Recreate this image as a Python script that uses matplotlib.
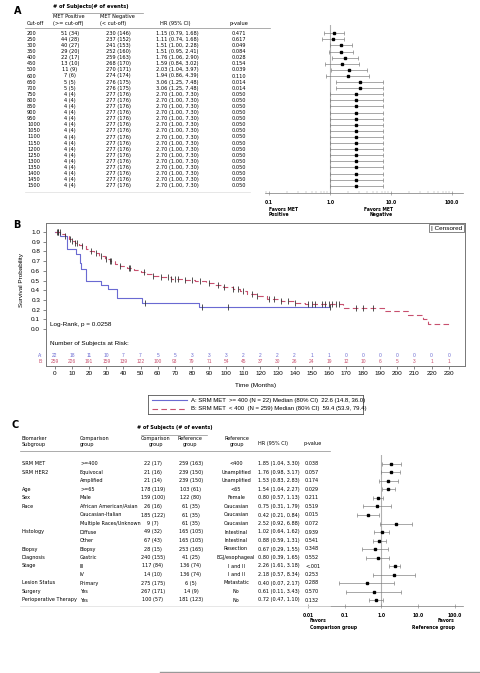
import matplotlib.pyplot as plt
import numpy as np
from matplotlib.lines import Line2D
from matplotlib.transforms import blended_transform_factory
from matplotlib.ticker import LogLocator, NullFormatter, FixedLocator

W, H = 480, 673

# ---------------- panel A data ----------------
cutoffs = [200, 250, 300, 350, 400, 450, 500, 600, 650, 700, 750, 800, 850, 900, 950,
           1000, 1050, 1100, 1150, 1200, 1250, 1300, 1350, 1400, 1450, 1500]
pos_n = [51, 44, 40, 29, 22, 13, 11, 7, 5, 5, 4, 4, 4, 4, 4, 4, 4, 4, 4, 4, 4, 4, 4, 4, 4, 4]
pos_e = [34, 28, 27, 20, 17, 10, 9, 6, 5, 5, 4, 4, 4, 4, 4, 4, 4, 4, 4, 4, 4, 4, 4, 4, 4, 4]
neg_n = [230, 237, 241, 252, 259, 268, 270, 274, 276, 276, 277, 277, 277, 277, 277, 277,
         277, 277, 277, 277, 277, 277, 277, 277, 277, 277]
neg_e = [146, 152, 153, 160, 163, 170, 171, 174, 175, 175, 176, 176, 176, 176, 176, 176,
         176, 176, 176, 176, 176, 176, 176, 176, 176, 176]
hr_a = [1.15, 1.11, 1.51, 1.51, 1.76, 1.59, 2.03, 1.94, 3.06, 3.06, 2.70, 2.70, 2.70, 2.70,
        2.70, 2.70, 2.70, 2.70, 2.70, 2.70, 2.70, 2.70, 2.70, 2.70, 2.70, 2.70]
lo_a = [0.79, 0.74, 1.00, 0.95, 1.06, 0.84, 1.04, 0.86, 1.25, 1.25, 1.00, 1.00, 1.00, 1.00,
        1.00, 1.00, 1.00, 1.00, 1.00, 1.00, 1.00, 1.00, 1.00, 1.00, 1.00, 1.00]
hi_a = [1.68, 1.68, 2.28, 2.41, 2.90, 3.02, 3.97, 4.39, 7.48, 7.48, 7.30, 7.30, 7.30, 7.30,
        7.30, 7.30, 7.30, 7.30, 7.30, 7.30, 7.30, 7.30, 7.30, 7.30, 7.30, 7.30]
p_a = ["0.471", "0.617", "0.049", "0.084", "0.028", "0.154", "0.039", "0.110", "0.014", "0.014",
       "0.050", "0.050", "0.050", "0.050", "0.050", "0.050", "0.050", "0.050", "0.050", "0.050",
       "0.050", "0.050", "0.050", "0.050", "0.050", "0.050"]

# ---------------- panel B data ----------------
a_times = [0, 3, 7, 12.5, 14.5, 15.5, 18, 27, 31, 36, 51, 84, 160.6]
a_surv = [1.0, 0.955, 0.82, 0.77, 0.68, 0.62, 0.50, 0.455, 0.41, 0.32, 0.27, 0.23, 0.23]
a_cens = [2, 52.5, 86, 101, 160.5]

b_times = [0, 4, 6, 8, 10, 12, 14, 16, 18, 20, 23, 26, 29, 32, 35, 38, 42, 46, 50, 54, 57,
           62, 68, 75, 82, 88, 93, 98, 104, 108, 112, 118, 124, 132, 140, 146, 168, 192, 206,
           215, 218, 231]
b_surv = [1.0, 0.98, 0.96, 0.93, 0.91, 0.89, 0.87, 0.86, 0.83, 0.80, 0.78, 0.75, 0.72, 0.70,
          0.67, 0.65, 0.63, 0.61, 0.59, 0.57, 0.55, 0.54, 0.52, 0.505, 0.49, 0.47, 0.45, 0.43,
          0.41, 0.39, 0.36, 0.34, 0.31, 0.29, 0.27, 0.26, 0.22, 0.185, 0.145, 0.10, 0.05, 0.05]
b_cens = [1, 2, 3, 6, 9, 10, 12, 13, 16, 21, 24, 27, 30, 32, 33, 38, 43, 44, 52, 57, 62, 66,
          68, 70, 72, 76, 80, 85, 90, 95, 99, 104, 107, 110, 115, 118, 125, 128, 132, 136, 140,
          148, 150, 152, 156, 158, 160, 162, 164, 166, 176, 180, 186]

risk_times = [0, 10, 20, 30, 40, 50, 60, 70, 80, 90, 100, 110, 120, 130, 140, 150, 160, 170,
              180, 190, 200, 210, 220, 230]
risk_a = [22, 18, 11, 10, 7, 7, 5, 5, 3, 3, 3, 2, 2, 2, 2, 1, 1, 0, 0, 0, 0, 0, 0, 0]
risk_b = [259, 226, 191, 159, 139, 122, 100, 93, 79, 71, 54, 45, 37, 30, 26, 24, 19, 12, 10,
          6, 5, 3, 1, 1]

# ---------------- panel C data ----------------
subgroup = ["SRM MET", "SRM HER2", "", "Age", "Sex", "Race", "", "", "Histology", "",
            "Biopsy", "Diagnosis", "Stage", "", "Lesion Status", "Surgery", "Perioperative Therapy"]
comp_grp = [">=400", "Equivocal", "Amplified", ">=65", "Male", "African American/Asian",
            "Caucasian-Italian", "Multiple Races/Unknown", "Diffuse", "Other", "Biopsy",
            "Gastric", "III", "IV", "Primary", "Yes", "Yes"]
comp_n = ["22 (17)", "21 (16)", "21 (14)", "178 (119)", "159 (100)", "26 (16)", "185 (122)",
          "9 (7)", "49 (32)", "67 (43)", "28 (15)", "240 (155)", "117 (84)", "14 (10)",
          "275 (175)", "267 (171)", "100 (57)"]
ref_n = ["259 (163)", "239 (150)", "239 (150)", "103 (61)", "122 (80)", "61 (35)", "61 (35)",
         "61 (35)", "165 (105)", "165 (105)", "253 (165)", "41 (25)", "136 (74)", "136 (74)",
         "6 (5)", "14 (9)", "181 (123)"]
ref_grp = ["<400", "Unamplified", "Unamplified", "<65", "Female", "Caucasian", "Caucasian",
           "Caucasian", "Intestinal", "Intestinal", "Resection", "EGJ/esophageal", "I and II",
           "I and II", "Metastatic", "No", "No"]
hr_c = [1.85, 1.76, 1.53, 1.54, 0.80, 0.75, 0.42, 2.52, 1.02, 0.88, 0.67, 0.80, 2.26, 2.18,
        0.40, 0.61, 0.72]
lo_c = [1.04, 0.98, 0.83, 1.04, 0.57, 0.31, 0.21, 0.92, 0.64, 0.59, 0.29, 0.39, 1.61, 0.57,
        0.07, 0.11, 0.47]
hi_c = [3.30, 3.17, 2.83, 2.27, 1.13, 1.79, 0.84, 6.88, 1.62, 1.31, 1.55, 1.65, 3.18, 8.34,
        2.17, 3.43, 1.10]
p_c = ["0.038", "0.057", "0.174", "0.029", "0.211", "0.519", "0.015", "0.072", "0.939",
       "0.541", "0.348", "0.552", "<.001", "0.253", "0.288", "0.570", "0.132"]

FS = 4.1      # table text, panel A
FS_C = 3.95   # table text, panel C
GREY = '#8a8a8a'
BLUE = '#6a6ad2'
RED = '#c8506e'
SANS = 'Liberation Sans'

fig = plt.figure(figsize=(W / 100, H / 100), dpi=100)


def px_rect(x0, y0, x1, y1):
    return [x0 / W, 1 - y1 / H, (x1 - x0) / W, (y1 - y0) / H]


def ftext(x, y, s, **kw):
    kw.setdefault('va', 'center')
    kw.setdefault('fontsize', FS)
    kw.setdefault('fontstretch', 'condensed')
    fig.text(x / W, 1 - y / H, s, **kw)


def fline(x0, x1, y, color=GREY, lw=0.5):
    fig.add_artist(Line2D([x0 / W, x1 / W], [1 - y / H, 1 - y / H], color=color, lw=lw))


def forest(ax, hr, lo, hi, ticks, ticklabels):
    hr = np.array(hr)
    yy = np.arange(len(hr))
    ax.set_xscale('log')
    ax.axvline(1.0, color='#b0b0b0', lw=0.8, zorder=0)
    ax.errorbar(hr, yy, xerr=[hr - np.array(lo), np.array(hi) - hr], fmt='s', ms=1.8,
                mfc='black', mec='black', ecolor='#777777', elinewidth=0.45,
                capsize=1.3, capthick=0.45)
    for s in ['top', 'right', 'left']:
        ax.spines[s].set_visible(False)
    ax.spines['bottom'].set_color('#777777')
    ax.spines['bottom'].set_linewidth(0.5)
    ax.set_yticks([])
    ax.xaxis.set_major_locator(FixedLocator(ticks))
    ax.set_xticklabels(ticklabels, fontsize=3.6, fontweight='bold', fontstretch='condensed')
    ax.xaxis.set_minor_locator(LogLocator(base=10, subs=np.arange(2, 10)))
    ax.xaxis.set_minor_formatter(NullFormatter())
    ax.tick_params(axis='x', which='major', length=2.5, width=0.4, color='#777777', pad=4,
                   direction='inout')
    ax.tick_params(axis='x', which='minor', length=1.5, width=0.3, color='#999999',
                   direction='in')


# ================= PANEL A =================
axA = fig.add_axes(px_rect(265, 25, 463, 192.7))
forest(axA, hr_a, lo_a, hi_a, [0.1, 1, 10, 100], ["0.1", "1.0", "10.0", "100.0"])
axA.set_xlim(10 ** -1.066, 10 ** 2.18)
row0, rstep = 33.3, 6.1
axA.set_ylim((192.7 - row0) / rstep, -(row0 - 25) / rstep)

trA = blended_transform_factory(fig.transFigure, axA.transData)
for i in range(len(cutoffs)):
    kw = dict(transform=trA, fontsize=FS, va='center', fontstretch='condensed')
    fig.text(27 / W, i, str(cutoffs[i]), ha='left', **kw)
    fig.text(70 / W, i, f"{pos_n[i]} ({pos_e[i]})", ha='center', **kw)
    fig.text(118 / W, i, f"{neg_n[i]} ({neg_e[i]})", ha='center', **kw)
    fig.text(156 / W, i, f"{hr_a[i]:.2f} ({lo_a[i]:.2f}, {hi_a[i]:.2f})", ha='left', **kw)
    fig.text(232 / W, i, p_a[i], ha='left', **kw)

ftext(18, 10.7, "A", fontsize=7, fontweight='bold', ha='center', fontstretch='normal')
ftext(91, 6.7, "# of Subjects(# of events)", ha='center', fontweight='bold')
fline(52, 143, 12.8)
ftext(53, 16.2, "MET Positive")
ftext(53, 23.2, "(>= cut-off)")
ftext(100, 16.2, "MET Negative")
ftext(100, 23.2, "(< cut-off)")
ftext(27, 23.2, "Cut-off")
ftext(160, 23.2, "HR (95% CI)")
ftext(230, 23.2, "p-value")
fline(25, 270, 28.3)
fline(25, 250, 192.3, color='#dddddd')
ftext(269, 209.3, "Favors MET", ha='left', fontsize=3.6, fontweight='bold')
ftext(269, 214.8, "Positive", ha='left', fontsize=3.6, fontweight='bold')
ftext(393, 209.3, "Favors MET", ha='right', fontsize=3.6, fontweight='bold')
ftext(393, 214.8, "Negative", ha='right', fontsize=3.6, fontweight='bold')

# ================= PANEL B =================
axB = fig.add_axes(px_rect(45.7, 223, 465, 365.7))
axB.step(a_times, a_surv, where='post', color=BLUE, lw=0.8)
axB.step(b_times, b_surv, where='post', color=RED, lw=0.8, ls=(0, (5, 3)))


def surv_at(times, surv, t):
    idx = np.searchsorted(np.array(times), t, side='right') - 1
    return np.array(surv)[idx]


axB.plot(a_cens, surv_at(a_times, a_surv, a_cens), ls='none', marker='|', ms=5, mew=0.6,
         color='#333333')
axB.plot(b_cens, surv_at(b_times, b_surv, b_cens), ls='none', marker='|', ms=5, mew=0.6,
         color='#333333')

axB.set_xlim(-5.4, 239.5)
axB.set_ylim(-0.378, 1.093)
yt = [0.0, 0.1, 0.2, 0.3, 0.4, 0.5, 0.6, 0.7, 0.8, 0.9, 1.0]
axB.set_yticks(yt)
axB.set_yticklabels([f"{v:.1f}" for v in yt], fontsize=4.6, family=SANS)
axB.set_xticks(risk_times)
axB.set_xticklabels([str(t) for t in risk_times], fontsize=4.6, family=SANS)
axB.tick_params(length=2, width=0.5, pad=2, color='#555555')
for s in axB.spines.values():
    s.set_color('#777777')
    s.set_linewidth(0.7)

axB.text(-2.9, 0.048, "Log-Rank, p = 0.0258", fontsize=4.6, family=SANS, va='center')
axB.text(-2.9, -0.148, "Number of Subjects at Risk:", fontsize=4.6, family=SANS, va='center')
for t, na, nb in zip(risk_times, risk_a, risk_b):
    axB.text(t, -0.278, str(na), color=BLUE, fontsize=3.5, family=SANS, ha='center', va='center')
    axB.text(t, -0.337, str(nb), color=RED, fontsize=3.5, family=SANS, ha='center', va='center')
trB = blended_transform_factory(fig.transFigure, axB.transData)
axB.text(43 / W, -0.278, "A:", transform=trB, color=BLUE, fontsize=3.5, family=SANS,
         ha='right', va='center')
axB.text(43 / W, -0.337, "B:", transform=trB, color=RED, fontsize=3.5, family=SANS,
         ha='right', va='center')

axB.text(0.993, 0.982, "| Censored", transform=axB.transAxes, ha='right', va='top',
         fontsize=4.6, family=SANS,
         bbox=dict(boxstyle='square,pad=0.25', fc='white', ec='#555555', lw=0.5))

ftext(16.7, 225, "B", fontsize=7, fontweight='bold', ha='center', fontstretch='normal')
ftext(21, 280, "Survival Probability", rotation=90, ha='center', fontsize=4.6, family=SANS)
ftext(255.7, 385, "Time (Months)", ha='center', fontsize=4.6, family=SANS)

axL = fig.add_axes(px_rect(148, 394.5, 363.3, 414.3))
axL.set_xlim(0, 1)
axL.set_ylim(0, 1)
axL.set_xticks([])
axL.set_yticks([])
for s in axL.spines.values():
    s.set_color('#555555')
    s.set_linewidth(0.6)
axL.plot([0.02, 0.18], [0.72, 0.72], color=BLUE, lw=0.8)
axL.plot([0.02, 0.18], [0.27, 0.27], color=RED, lw=0.8, ls=(0, (5, 3)))
axL.text(0.2, 0.72, "A: SRM MET  >= 400 (N = 22) Median (80% CI)  22.6 (14.8, 36.0)",
         fontsize=4.3, family=SANS, va='center')
axL.text(0.2, 0.27, "B: SRM MET  < 400  (N = 259) Median (80% CI)  59.4 (53.9, 79.4)",
         fontsize=4.3, family=SANS, va='center')

# ================= PANEL C =================
axC = fig.add_axes(px_rect(308, 455, 463, 605.7))
forest(axC, hr_c, lo_c, hi_c, [0.01, 0.1, 1, 10, 100],
       ["0.01", "0.1", "1.0", "10.0", "100.0"])
axC.set_xlim(0.01, 10 ** 2.218)
c0, cstep = 464, 8.5
axC.set_ylim((605.7 - c0) / cstep, -(c0 - 455) / cstep)

trC = blended_transform_factory(fig.transFigure, axC.transData)
for i in range(len(comp_grp)):
    kw = dict(transform=trC, fontsize=FS_C, va='center', fontstretch='condensed')
    fig.text(21.7 / W, i, subgroup[i], ha='left', **kw)
    fig.text(80 / W, i, comp_grp[i], ha='left', **kw)
    fig.text(153 / W, i, comp_n[i], ha='center', **kw)
    fig.text(191 / W, i, ref_n[i], ha='center', **kw)
    fig.text(236 / W, i, ref_grp[i], ha='center', **kw)
    fig.text(258 / W, i, f"{hr_c[i]:.2f} ({lo_c[i]:.2f}, {hi_c[i]:.2f})", ha='left', **kw)
    fig.text(305 / W, i, p_c[i], ha='left', **kw)

ftext(15, 425, "C", fontsize=7, fontweight='bold', ha='center', fontstretch='normal')
ftext(175, 427.7, "# of Subjects (# of events)", ha='center', fontweight='bold', fontsize=FS_C)
fline(141, 207, 434.5)
ftext(21.7, 438.8, "Biomarker", fontsize=FS_C)
ftext(21.7, 444.3, "Subgroup", fontsize=FS_C)
ftext(80, 438.8, "Comparison", fontsize=FS_C)
ftext(80, 444.3, "group", fontsize=FS_C)
ftext(156, 438.8, "Comparison", ha='center', fontsize=FS_C)
ftext(156, 444.3, "group", ha='center', fontsize=FS_C)
ftext(190, 438.8, "Reference", ha='center', fontsize=FS_C)
ftext(190, 444.3, "group", ha='center', fontsize=FS_C)
ftext(237, 438.8, "Reference", ha='center', fontsize=FS_C)
ftext(237, 444.3, "group", ha='center', fontsize=FS_C)
ftext(258, 443.5, "HR (95% CI)", fontsize=FS_C)
ftext(304, 443.5, "p-value", fontsize=FS_C)
fline(20, 330, 451)
fline(20, 330, 605.5, color='#dddddd')
ftext(310, 621, "Favors", ha='left', fontsize=3.6, fontweight='bold')
ftext(310, 627, "Comparison group", ha='left', fontsize=3.6, fontweight='bold')
ftext(455, 621, "Favors", ha='right', fontsize=3.6, fontweight='bold')
ftext(455, 627, "Reference group", ha='right', fontsize=3.6, fontweight='bold')

fline(160, 480, 671.7, color='#999999', lw=1.0)

fig.savefig('out.png', dpi=100)
